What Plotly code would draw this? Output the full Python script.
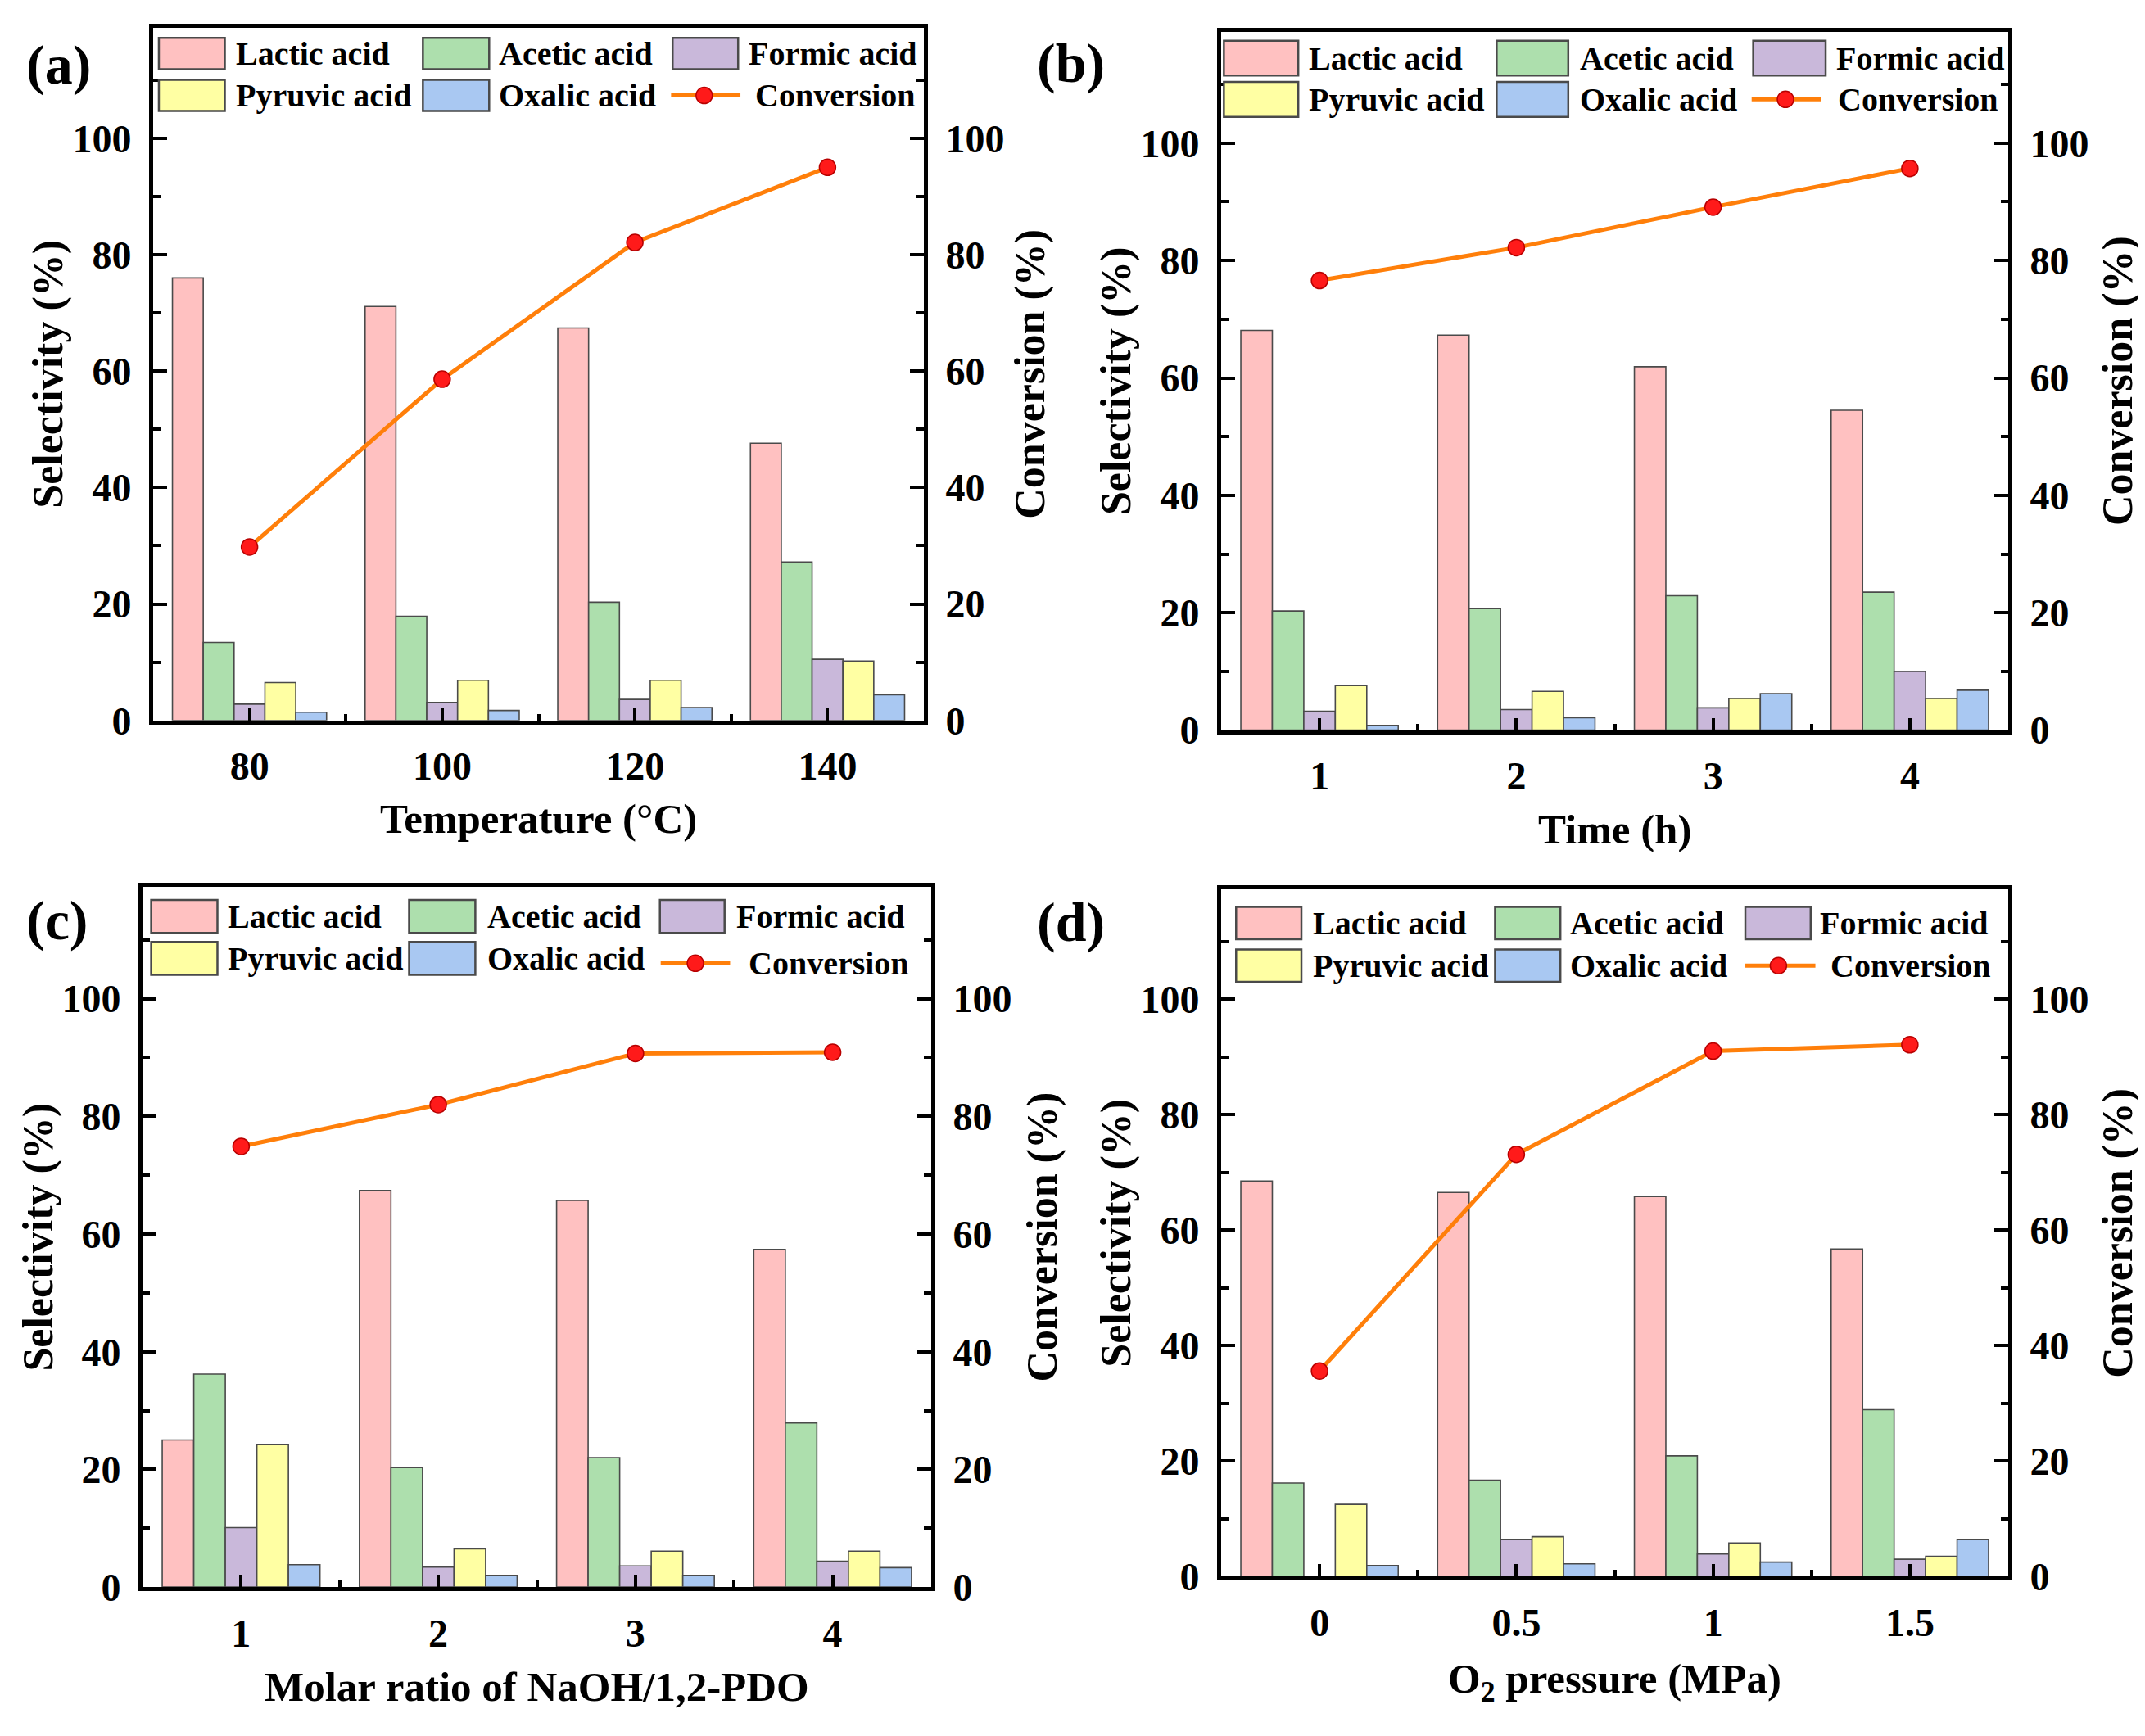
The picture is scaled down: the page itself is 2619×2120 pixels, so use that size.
import plotly.graph_objects as go

W, H = 2619, 2120

# ---------------- data ----------------
series_names = ["Lactic acid", "Acetic acid", "Formic acid", "Pyruvic acid", "Oxalic acid"]
series_colors = ["#FFC1C1", "#ADDFAD", "#C9B8DA", "#FFFFA3", "#A9C8F2"]

# (a) temperature
temp_labels = ["80", "100", "120", "140"]
temp_lactic = [76.0, 71.1, 67.4, 47.6]
temp_acetic = [13.4, 17.9, 20.3, 27.2]
temp_formic = [2.8, 3.1, 3.6, 10.5]
temp_pyruvic = [6.5, 6.9, 6.9, 10.2]
temp_oxalic = [1.4, 1.7, 2.2, 4.4]
temp_conversion = [29.8, 58.6, 82.1, 95.0]

# (b) time
time_labels = ["1", "2", "3", "4"]
time_lactic = [68.1, 67.3, 61.9, 54.5]
time_acetic = [20.3, 20.7, 22.9, 23.5]
time_formic = [3.2, 3.5, 3.8, 10.0]
time_pyruvic = [7.6, 6.6, 5.4, 5.4]
time_oxalic = [0.8, 2.1, 6.2, 6.8]
time_conversion = [76.6, 82.2, 89.1, 95.7]

# (c) molar ratio NaOH/1,2-PDO
ratio_labels = ["1", "2", "3", "4"]
ratio_lactic = [25.0, 67.4, 65.7, 57.4]
ratio_acetic = [36.2, 20.3, 22.0, 27.9]
ratio_formic = [10.1, 3.4, 3.6, 4.4]
ratio_pyruvic = [24.2, 6.5, 6.1, 6.1]
ratio_oxalic = [3.8, 2.0, 2.0, 3.3]
ratio_conversion = [74.9, 82.0, 90.7, 90.9]

# (d) O2 pressure
press_labels = ["0", "0.5", "1", "1.5"]
press_lactic = [68.5, 66.5, 65.8, 56.7]
press_acetic = [16.2, 16.7, 20.9, 28.9]
press_formic = [0.0, 6.4, 3.9, 3.0]
press_pyruvic = [12.5, 6.9, 5.8, 3.5]
press_oxalic = [1.9, 2.2, 2.5, 6.4]
press_conversion = [35.6, 73.1, 91.0, 92.1]

x_titles = ["Temperature (°C)", "Time (h)", "Molar ratio of NaOH/1,2-PDO", "O<sub>2</sub> pressure (MPa)"]
panel_tags = ["(a)", "(b)", "(c)", "(d)"]

panels = [
    (temp_labels, [temp_lactic, temp_acetic, temp_formic, temp_pyruvic, temp_oxalic], temp_conversion),
    (time_labels, [time_lactic, time_acetic, time_formic, time_pyruvic, time_oxalic], time_conversion),
    (ratio_labels, [ratio_lactic, ratio_acetic, ratio_formic, ratio_pyruvic, ratio_oxalic], ratio_conversion),
    (press_labels, [press_lactic, press_acetic, press_formic, press_pyruvic, press_oxalic], press_conversion),
]

# ---------------- layout geometry (pixels) ----------------
# left, right, y-of-zero (bottom), top
boxes = [
    (179, 1120, 883, 26),
    (1483, 2444, 895, 31),
    (166, 1129, 1955, 1089),
    (1483, 2444, 1942, 1092),
]
tag_pos = [(22, 72), (1256, 70), (22, 1130), (1256, 1132)]
ytitle_left_x = [51, 1355, 39, 1355]
ytitle_right_x = [1250, 2578, 1265, 2578]
xtitle_y = [1005, 1018, 2078, 2072]

legend_cfg = [
    dict(sw=[(0.0074, 0.093), (0.350, 0.436), (0.674, 0.759)], tx=[0.105, 0.446, 0.770],
         rows=[0.9625, 0.902], sh=0.045, cl=(0.672, 0.762), cm=0.715, ct=0.779, cy=0.902),
    dict(sw=[(0.0035, 0.098), (0.350, 0.441), (0.676, 0.768)], tx=[0.109, 0.454, 0.779],
         rows=[0.962, 0.903], sh=0.050, cl=(0.674, 0.762), cm=0.717, ct=0.781, cy=0.903),
    dict(sw=[(0.011, 0.095), (0.338, 0.422), (0.656, 0.738)], tx=[0.106, 0.435, 0.751],
         rows=[0.958, 0.898], sh=0.047, cl=(0.657, 0.745), cm=0.701, ct=0.766, cy=0.891),
    dict(sw=[(0.019, 0.102), (0.348, 0.431), (0.666, 0.749)], tx=[0.114, 0.441, 0.759],
         rows=[0.951, 0.889], sh=0.047, cl=(0.666, 0.755), cm=0.708, ct=0.772, cy=0.889),
]

FONT = "Liberation Serif"
YMAX = 119

fig = go.Figure()
layout = dict(
    width=W, height=H, margin=dict(l=0, r=0, t=0, b=0),
    paper_bgcolor="white", plot_bgcolor="white",
    barmode="group", bargap=0.2, bargroupgap=0.0,
    showlegend=False,
    font=dict(family=FONT, size=40, color="black", weight="bold"),
)
shapes = []
annotations = []

for i, (labels, vals, conv) in enumerate(panels):
    xa = "x" if i == 0 else f"x{i+1}"
    yl = "y" if i == 0 else f"y{2*i+1}"
    yr = f"y{2*i+2}"
    left, right, y0, top = boxes[i]
    xdom = [left / W, right / W]
    ydom = [1 - y0 / H, 1 - top / H]
    xpos = list(range(len(labels)))

    for name, color, v in zip(series_names, series_colors, vals):
        fig.add_trace(go.Bar(
            x=xpos, y=v, name=name, xaxis=xa, yaxis=yl,
            marker=dict(color=color, line=dict(color="#4a4a4a", width=1.6)),
        ))
    fig.add_trace(go.Scatter(
        x=xpos, y=conv, name="Conversion", xaxis=xa, yaxis=yr,
        mode="lines+markers",
        line=dict(color="#FF7F0A", width=5),
        marker=dict(color="#FF1A1A", size=20, line=dict(color="#B80000", width=1.5)),
    ))

    xkey = "xaxis" if i == 0 else f"xaxis{i+1}"
    ylkey = "yaxis" if i == 0 else f"yaxis{2*i+1}"
    yrkey = f"yaxis{2*i+2}"

    layout[xkey] = dict(
        domain=xdom, anchor=yl, range=[-0.5, len(labels) - 0.5],
        tickmode="array", tickvals=xpos, ticktext=labels,
        ticks="inside", ticklen=15, tickwidth=4, tickcolor="black",
        minor=dict(tickmode="array", tickvals=[p + 0.5 for p in xpos[:-1]],
                   ticks="inside", ticklen=8, tickwidth=4, tickcolor="black"),
        showline=True, linewidth=5, linecolor="black", mirror=True,
        showgrid=False, zeroline=False,
        tickfont=dict(family=FONT, size=48, weight="bold"),
        ticklabelstandoff=10,
    )
    common_y = dict(
        domain=ydom, anchor=xa, range=[0, YMAX],
        tickmode="array", tickvals=[0, 20, 40, 60, 80, 100],
        ticks="inside", ticklen=17, tickwidth=4, tickcolor="black",
        minor=dict(tickmode="array", tickvals=[10, 30, 50, 70, 90, 110],
                   ticks="inside", ticklen=9, tickwidth=4, tickcolor="black"),
        showline=True, linewidth=5, linecolor="black",
        showgrid=False, zeroline=False,
        tickfont=dict(family=FONT, size=48, weight="bold"),
        ticklabelstandoff=12,
    )
    layout[ylkey] = dict(common_y, side="left")
    layout[yrkey] = dict(common_y, side="right", overlaying=yl)

    # panel tag
    tx, ty = tag_pos[i]
    annotations.append(dict(text=panel_tags[i], x=tx / W, y=1 - ty / H, xref="paper", yref="paper",
                            xanchor="left", yanchor="middle", showarrow=False,
                            font=dict(family=FONT, size=68, weight="bold")))
    ymid = 1 - (y0 + top) / 2 / H
    annotations.append(dict(text="Selectivity (%)", x=ytitle_left_x[i] / W, y=ymid, xref="paper", yref="paper",
                            xanchor="center", yanchor="middle", textangle=-90, showarrow=False,
                            font=dict(family=FONT, size=52, weight="bold")))
    annotations.append(dict(text="Conversion (%)", x=ytitle_right_x[i] / W, y=ymid, xref="paper", yref="paper",
                            xanchor="center", yanchor="middle", textangle=-90, showarrow=False,
                            font=dict(family=FONT, size=52, weight="bold")))
    annotations.append(dict(text=x_titles[i], x=(left + right) / 2 / W, y=1 - xtitle_y[i] / H,
                            xref="paper", yref="paper", xanchor="center", yanchor="middle", showarrow=False,
                            font=dict(family=FONT, size=51, weight="bold")))

    # custom legend
    cfg = legend_cfg[i]
    xd = f"{xa} domain"
    yd = f"{yl} domain"
    items = [(0, 0), (0, 1), (0, 2), (1, 0), (1, 1)]
    for k, (r, c) in enumerate(items):
        x0, x1 = cfg["sw"][c]
        yc = cfg["rows"][r]
        shapes.append(dict(type="rect", xref=xd, yref=yd, x0=x0, x1=x1,
                           y0=yc - cfg["sh"] / 2, y1=yc + cfg["sh"] / 2,
                           fillcolor=series_colors[k], line=dict(color="#4a4a4a", width=2.5)))
        annotations.append(dict(text=series_names[k], x=cfg["tx"][c], y=yc, xref=xd, yref=yd,
                                xanchor="left", yanchor="middle", showarrow=False,
                                font=dict(family=FONT, size=40, weight="bold")))
    cy = cfg["cy"]
    shapes.append(dict(type="line", xref=xd, yref=yd, x0=cfg["cl"][0], x1=cfg["cl"][1], y0=cy, y1=cy,
                       line=dict(color="#FF7F0A", width=5)))
    shapes.append(dict(type="circle", xref=xd, yref=yd, xsizemode="pixel", ysizemode="pixel",
                       xanchor=cfg["cm"], yanchor=cy, x0=-10, x1=10, y0=-10, y1=10,
                       fillcolor="#FF1A1A", line=dict(color="#B80000", width=1.5)))
    annotations.append(dict(text="Conversion", x=cfg["ct"], y=cy, xref=xd, yref=yd,
                            xanchor="left", yanchor="middle", showarrow=False,
                            font=dict(family=FONT, size=40, weight="bold")))

layout["shapes"] = shapes
layout["annotations"] = annotations
fig.update_layout(**layout)
fig.write_html("out.html")
